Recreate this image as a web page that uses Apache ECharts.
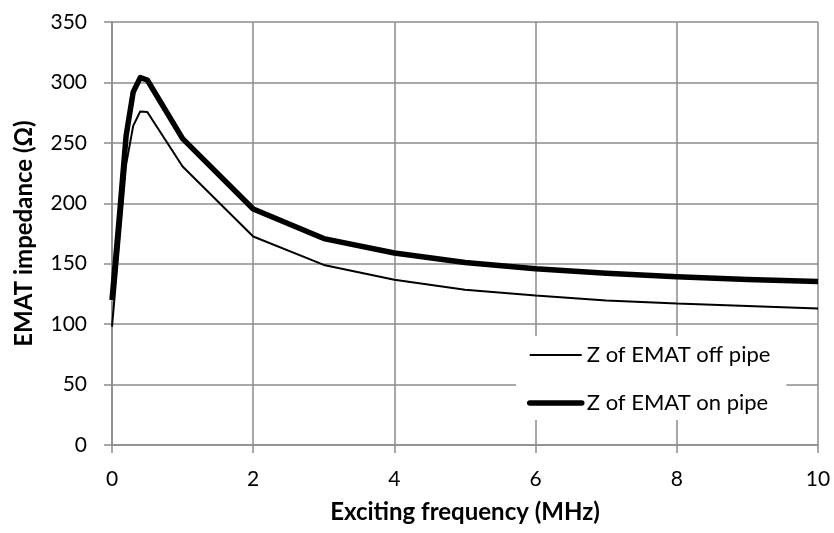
<!DOCTYPE html>
<html>
<head>
<meta charset="utf-8">
<script src="https://cdn.jsdelivr.net/npm/echarts@6/dist/echarts.min.js"></script>
<style>
  html, body { margin: 0; padding: 0; background: #fff; }
  #chart { width: 834px; height: 533px; }
</style>
</head>
<body>
<div id="chart"></div>
<script>
// Exciting frequency in MHz
const frequency = [0, 0.1, 0.2, 0.3, 0.4, 0.5, 1, 2, 3, 4, 5, 6, 7, 8, 9, 10];
// EMAT impedance (ohm) measured off and on the pipe
const zOffPipe = [98, 165, 232, 264, 276, 275.5, 230.5, 172.5, 149, 136.7, 128.5, 123.6, 119.6, 117, 115, 113];
const zOnPipe  = [120, 186, 256, 292, 304, 302, 253.5, 195.3, 170.8, 158.9, 151, 145.8, 142.2, 139.2, 137, 135.3];
const xTicks = { min: 0, max: 10, step: 2 };
const yTicks = { min: 0, max: 350, step: 50 };
const seriesNames = ['Z of EMAT off pipe', 'Z of EMAT on pipe'];

const pairs = (xs, ys) => xs.map((x, i) => [x, ys[i]]);

const FONT = 'Lato';
const GRID = '#8c8c8c';
const THIN = 2;
const THICK = 5.5;

const chart = echarts.init(document.getElementById('chart'), null, { renderer: 'canvas' });
chart.setOption({
  animation: false,
  backgroundColor: '#ffffff',
  textStyle: { fontFamily: FONT, color: '#000' },
  grid: { left: 112, right: 16, top: 22, bottom: 88, containLabel: false },
  xAxis: {
    type: 'value',
    min: xTicks.min, max: xTicks.max, interval: xTicks.step,
    name: 'Exciting frequency (MHz)',
    nameLocation: 'middle',
    nameGap: 55,
    nameTextStyle: { fontFamily: FONT, fontSize: 24, fontWeight: 'bold', color: '#000' },
    axisLine: { show: true, lineStyle: { color: GRID, width: 1.5 } },
    axisTick: { show: true, inside: false, length: 8, lineStyle: { color: GRID, width: 1.5 } },
    axisLabel: { fontFamily: FONT, fontSize: 21, color: '#000', margin: 24 },
    splitLine: { show: true, lineStyle: { color: GRID, width: 1.5 } }
  },
  yAxis: {
    type: 'value',
    min: yTicks.min, max: yTicks.max, interval: yTicks.step,
    name: 'EMAT impedance (Ω)',
    nameLocation: 'middle',
    nameGap: 76,
    nameTextStyle: { fontFamily: FONT, fontSize: 24, fontWeight: 'bold', color: '#000' },
    axisLine: { show: true, lineStyle: { color: GRID, width: 1.5 } },
    axisTick: { show: true, inside: false, length: 8, lineStyle: { color: GRID, width: 1.5 } },
    axisLabel: { fontFamily: FONT, fontSize: 21, color: '#000', margin: 25 },
    splitLine: { show: true, lineStyle: { color: GRID, width: 1.5 } }
  },
  legend: {
    orient: 'vertical',
    left: 516,
    top: 336,
    backgroundColor: '#ffffff',
    padding: [8, 16, 6, 11],
    itemWidth: 52,
    itemHeight: 20,
    itemGap: 26,
    textStyle: { fontFamily: FONT, fontSize: 22, color: '#000' },
    data: [
      { name: seriesNames[0], itemStyle: { opacity: 0 }, lineStyle: { width: THIN, color: '#000' } },
      { name: seriesNames[1], itemStyle: { opacity: 0 }, lineStyle: { width: THICK, color: '#000', cap: 'round' } }
    ]
  },
  series: [
    {
      name: seriesNames[0],
      type: 'line',
      data: pairs(frequency, zOffPipe),
      symbol: 'none',
      lineStyle: { color: '#000', width: THIN },
      itemStyle: { color: '#000' },
      z: 3
    },
    {
      name: seriesNames[1],
      type: 'line',
      data: pairs(frequency, zOnPipe),
      symbol: 'none',
      lineStyle: { color: '#000', width: THICK, join: 'round' },
      itemStyle: { color: '#000' },
      z: 4
    }
  ]
});
</script>
</body>
</html>
